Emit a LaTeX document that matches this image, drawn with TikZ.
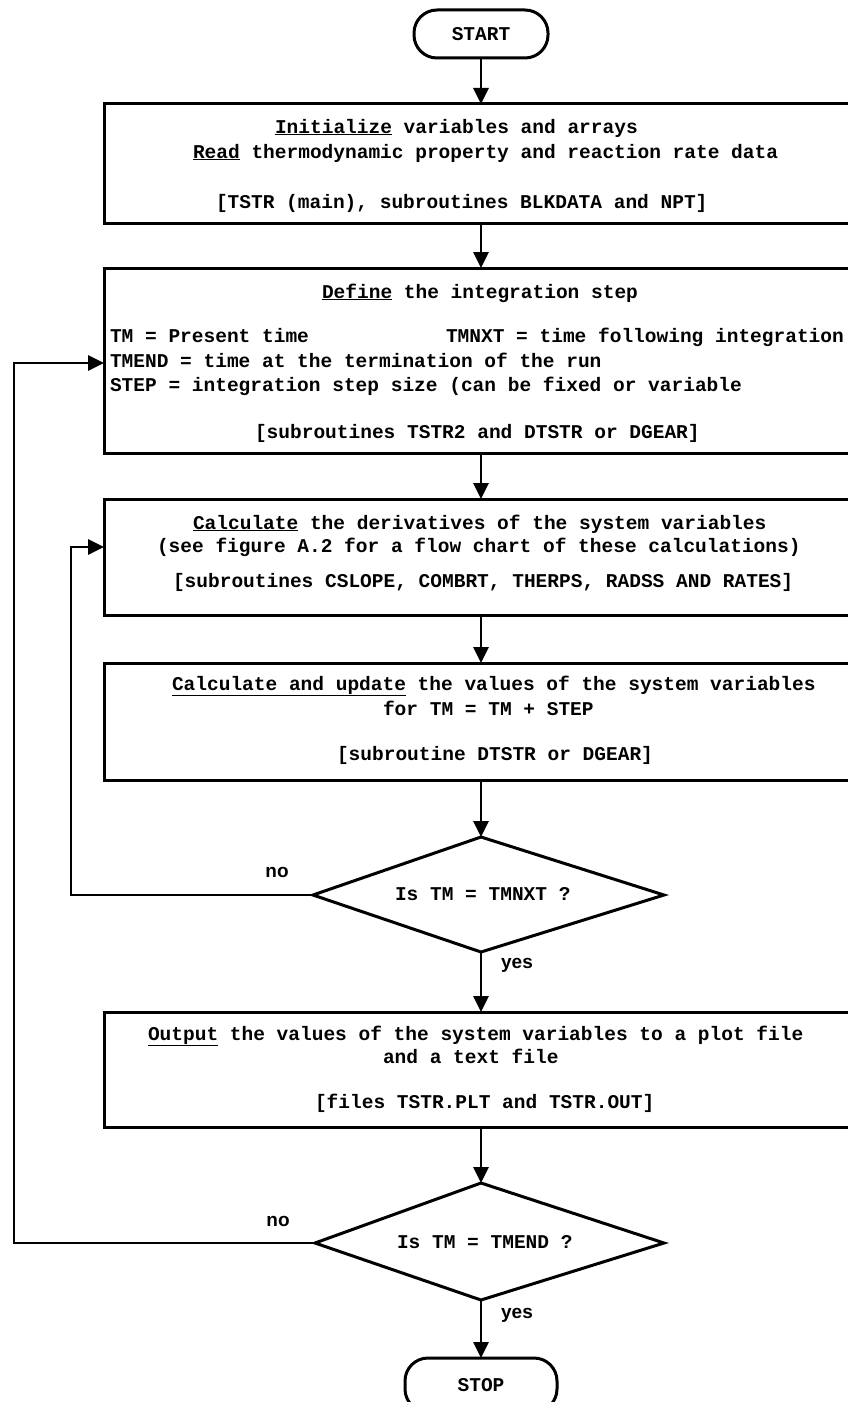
\documentclass[tikz,border=0pt]{standalone}
\usepackage{fontspec}
\setmonofont{Liberation Mono}
\setsansfont{Liberation Sans}
\usetikzlibrary{arrows.meta}
\begin{document}
\begin{tikzpicture}[x=1pt,y=-1pt,
  every node/.style={inner sep=0pt, outer sep=0pt},
  tfont/.style={font=\ttfamily\bfseries\fontsize{19.5}{24}\selectfont},
  txt/.style={tfont, anchor=base west},
  lbl/.style={anchor=center, font=\sffamily\bfseries\fontsize{19}{22}\selectfont},
  proc/.style={draw, line width=3pt, minimum width=754pt},
  term/.style={draw, line width=3pt, rounded corners=23pt, tfont},
  ln/.style={line width=2.8pt, line join=miter},
  arr/.style={ln, -{Triangle[length=16pt,width=15pt]}},
  dia/.style={line width=3pt, line join=miter}]
\useasboundingbox (0,0) rectangle (848,1402);

% terminals
\node[term, minimum width=134pt, minimum height=48pt] (start) at (481,34) {START};
\node[term, minimum width=152pt, minimum height=54pt] (stop) at (481,1385) {STOP};

% process boxes
\node[proc, minimum height=119pt] (b1) at (481,163.5) {};
\node[proc, minimum height=185pt] (b2) at (481,360.5) {};
\node[proc, minimum height=116pt] (b3) at (481,557) {};
\node[proc, minimum height=117pt] (b4) at (481,721.5) {};
\node[proc, minimum height=115pt] (b5) at (481,1069.5) {};

% decision diamonds
\coordinate (d1t) at (481,837);
\coordinate (d1l) at (313,895);
\coordinate (d1r) at (664,895);
\coordinate (d1b) at (481,952);
\draw[dia] (d1t) -- (d1r) -- (d1b) -- (d1l) -- cycle;
\coordinate (d2t) at (481,1183);
\coordinate (d2l) at (315,1243);
\coordinate (d2r) at (664,1243);
\coordinate (d2b) at (481,1300);
\draw[dia] (d2t) -- (d2r) -- (d2b) -- (d2l) -- cycle;

% texts box 1
\node[txt] (b1a) at (275,133) {\underline{Initialize} variables and arrays};
\node[txt] (b1b) at (193,158) {\underline{Read} thermodynamic property and reaction rate data};
\node[txt] (b1c) at (216,208) {[TSTR (main), subroutines BLKDATA and NPT]};
% texts box 2
\node[txt] (b2a) at (322,298) {\underline{Define} the integration step};
\node[txt] (b2b) at (110,342) {TM = Present time};
\node[txt] (b2c) at (446,342) {TMNXT = time following integration};
\node[txt] (b2d) at (110,367) {TMEND = time at the termination of the run};
\node[txt] (b2e) at (110,391) {STEP = integration step size (can be fixed or variable};
\node[txt] (b2f) at (255,438) {[subroutines TSTR2 and DTSTR or DGEAR]};
% texts box 3
\node[txt] (b3a) at (193,529) {\underline{Calculate} the derivatives of the system variables};
\node[txt] (b3b) at (157,552) {(see figure A.2 for a flow chart of these calculations)};
\node[txt] (b3c) at (173,587) {[subroutines CSLOPE, COMBRT, THERPS, RADSS AND RATES]};
% texts box 4
\node[txt] (b4a) at (172,690) {\underline{Calculate and update} the values of the system variables};
\node[txt] (b4b) at (383,715) {for TM = TM + STEP};
\node[txt] (b4c) at (337,760) {[subroutine DTSTR or DGEAR]};
% diamond texts
\node[txt] (d1txt) at (395,900) {Is TM = TMNXT ?};
\node[txt] (d2txt) at (397,1248) {Is TM = TMEND ?};
% texts box 5
\node[txt] (b5a) at (148,1040) {\underline{Output} the values of the system variables to a plot file};
\node[txt] (b5b) at (383,1063) {and a text file};
\node[txt] (b5c) at (315,1108) {[files TSTR.PLT and TSTR.OUT]};

% labels
\node[lbl] (no1) at (277,872) {no};
\node[lbl] (yes1) at (517,965) {yes};
\node[lbl] (no2) at (278,1221) {no};
\node[lbl] (yes2) at (517,1315) {yes};

% main flow
\draw[arr] (start) -- (b1);
\draw[arr] (b1) -- (b2);
\draw[arr] (b2) -- (b3);
\draw[arr] (b3) -- (b4);
\draw[arr] (b4) -- (d1t);
\draw[arr] (d1b) -- (b5);
\draw[arr] (b5) -- (d2t);
\draw[arr] (d2b) -- (stop);

% loops
\coordinate (i1) at (71,895);
\coordinate (i2) at (71,547);
\draw[arr] (d1l) -- (i1) -- (i2) -- (i2 -| b3.west);
\coordinate (o1) at (14,1243);
\coordinate (o2) at (14,363);
\draw[arr] (d2l) -- (o1) -- (o2) -- (o2 -| b2.west);
\end{tikzpicture}
\end{document}
